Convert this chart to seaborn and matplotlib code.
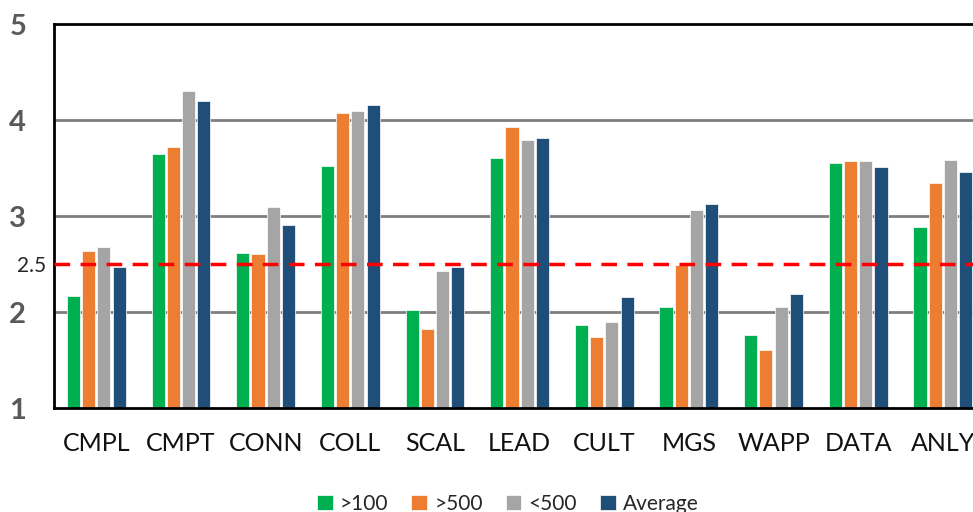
import matplotlib
matplotlib.use("Agg")
import matplotlib.pyplot as plt
import seaborn as sns
import pandas as pd

# Scores per dimension for each group
categories = ["CMPL", "CMPT", "CONN", "COLL", "SCAL", "LEAD",
              "CULT", "MGS", "WAPP", "DATA", "ANLY"]
over_100 = [2.17, 3.65, 2.62, 3.52, 2.02, 3.61, 1.87, 2.05, 1.76, 3.55, 2.89]
over_500 = [2.64, 3.72, 2.61, 4.07, 1.82, 3.93, 1.74, 2.49, 1.60, 3.57, 3.34]
under_500 = [2.68, 4.30, 3.09, 4.09, 2.43, 3.79, 1.90, 3.06, 2.05, 3.57, 3.58]
average = [2.47, 4.20, 2.91, 4.16, 2.47, 3.81, 2.16, 3.13, 2.19, 3.51, 3.46]

series_names = [">100", ">500", "<500", "Average"]
series_colors = ["#00B050", "#ED7D31", "#A5A5A5", "#1F4E79"]
threshold = 2.5
y_ticks = [1, 2, 2.5, 3, 4, 5]

df = pd.DataFrame({
    "category": categories * 4,
    "group": sum([[n] * len(categories) for n in series_names], []),
    "score": over_100 + over_500 + under_500 + average,
})

sns.set_theme(style="white")
plt.rcParams["font.family"] = ["Lato", "DejaVu Sans"]

fig = plt.figure(figsize=(9.73, 5.12), dpi=100)
ax = fig.add_axes([0.0555, 0.203, 0.957, 0.750])

sns.barplot(data=df, x="category", y="score", hue="group",
            hue_order=series_names, palette=series_colors,
            width=0.72, gap=0.14, ax=ax, saturation=1,
            edgecolor="white", linewidth=0.5, legend=True)

ax.set_ylim(1, 5)
ax.set_xlim(-0.5, len(categories) - 0.5)

for y in [2, 3, 4]:
    ax.axhline(y, color="#7F7F7F", lw=2, zorder=0)
ax.axhline(threshold, color="#FF0000", lw=2.5, ls=(0, (4.5, 3)), zorder=3)

ax.set_yticks(y_ticks)
ax.set_yticklabels([("%g" % v) for v in y_ticks])
ax.tick_params(axis="y", length=0)
ax.tick_params(axis="x", length=0, pad=17)
for tick, val in zip(ax.yaxis.get_major_ticks(), y_ticks):
    lab = tick.label1
    if val == threshold:
        lab.set_fontsize(15)
        lab.set_color("#262626")
        tick.set_pad(6)
    else:
        lab.set_fontsize(21)
        lab.set_fontweight("bold")
        lab.set_color("#595959")
        tick.set_pad(20)

for lab in ax.get_xticklabels():
    lab.set_fontsize(18)
    lab.set_color("#111111")

ax.set_xlabel("")
ax.set_ylabel("")

for side in ["left", "bottom", "top"]:
    ax.spines[side].set_color("black")
    ax.spines[side].set_linewidth(2)
ax.spines["right"].set_visible(False)

handles, labels = ax.get_legend_handles_labels()
ax.legend(handles, labels, loc="center", bbox_to_anchor=(0.522, 0.016),
          bbox_transform=fig.transFigure, ncol=4, frameon=False,
          fontsize=15, handlelength=0.75, handleheight=0.75,
          handletextpad=0.35, columnspacing=1.1)

fig.savefig("out.png", dpi=100, facecolor="white")
